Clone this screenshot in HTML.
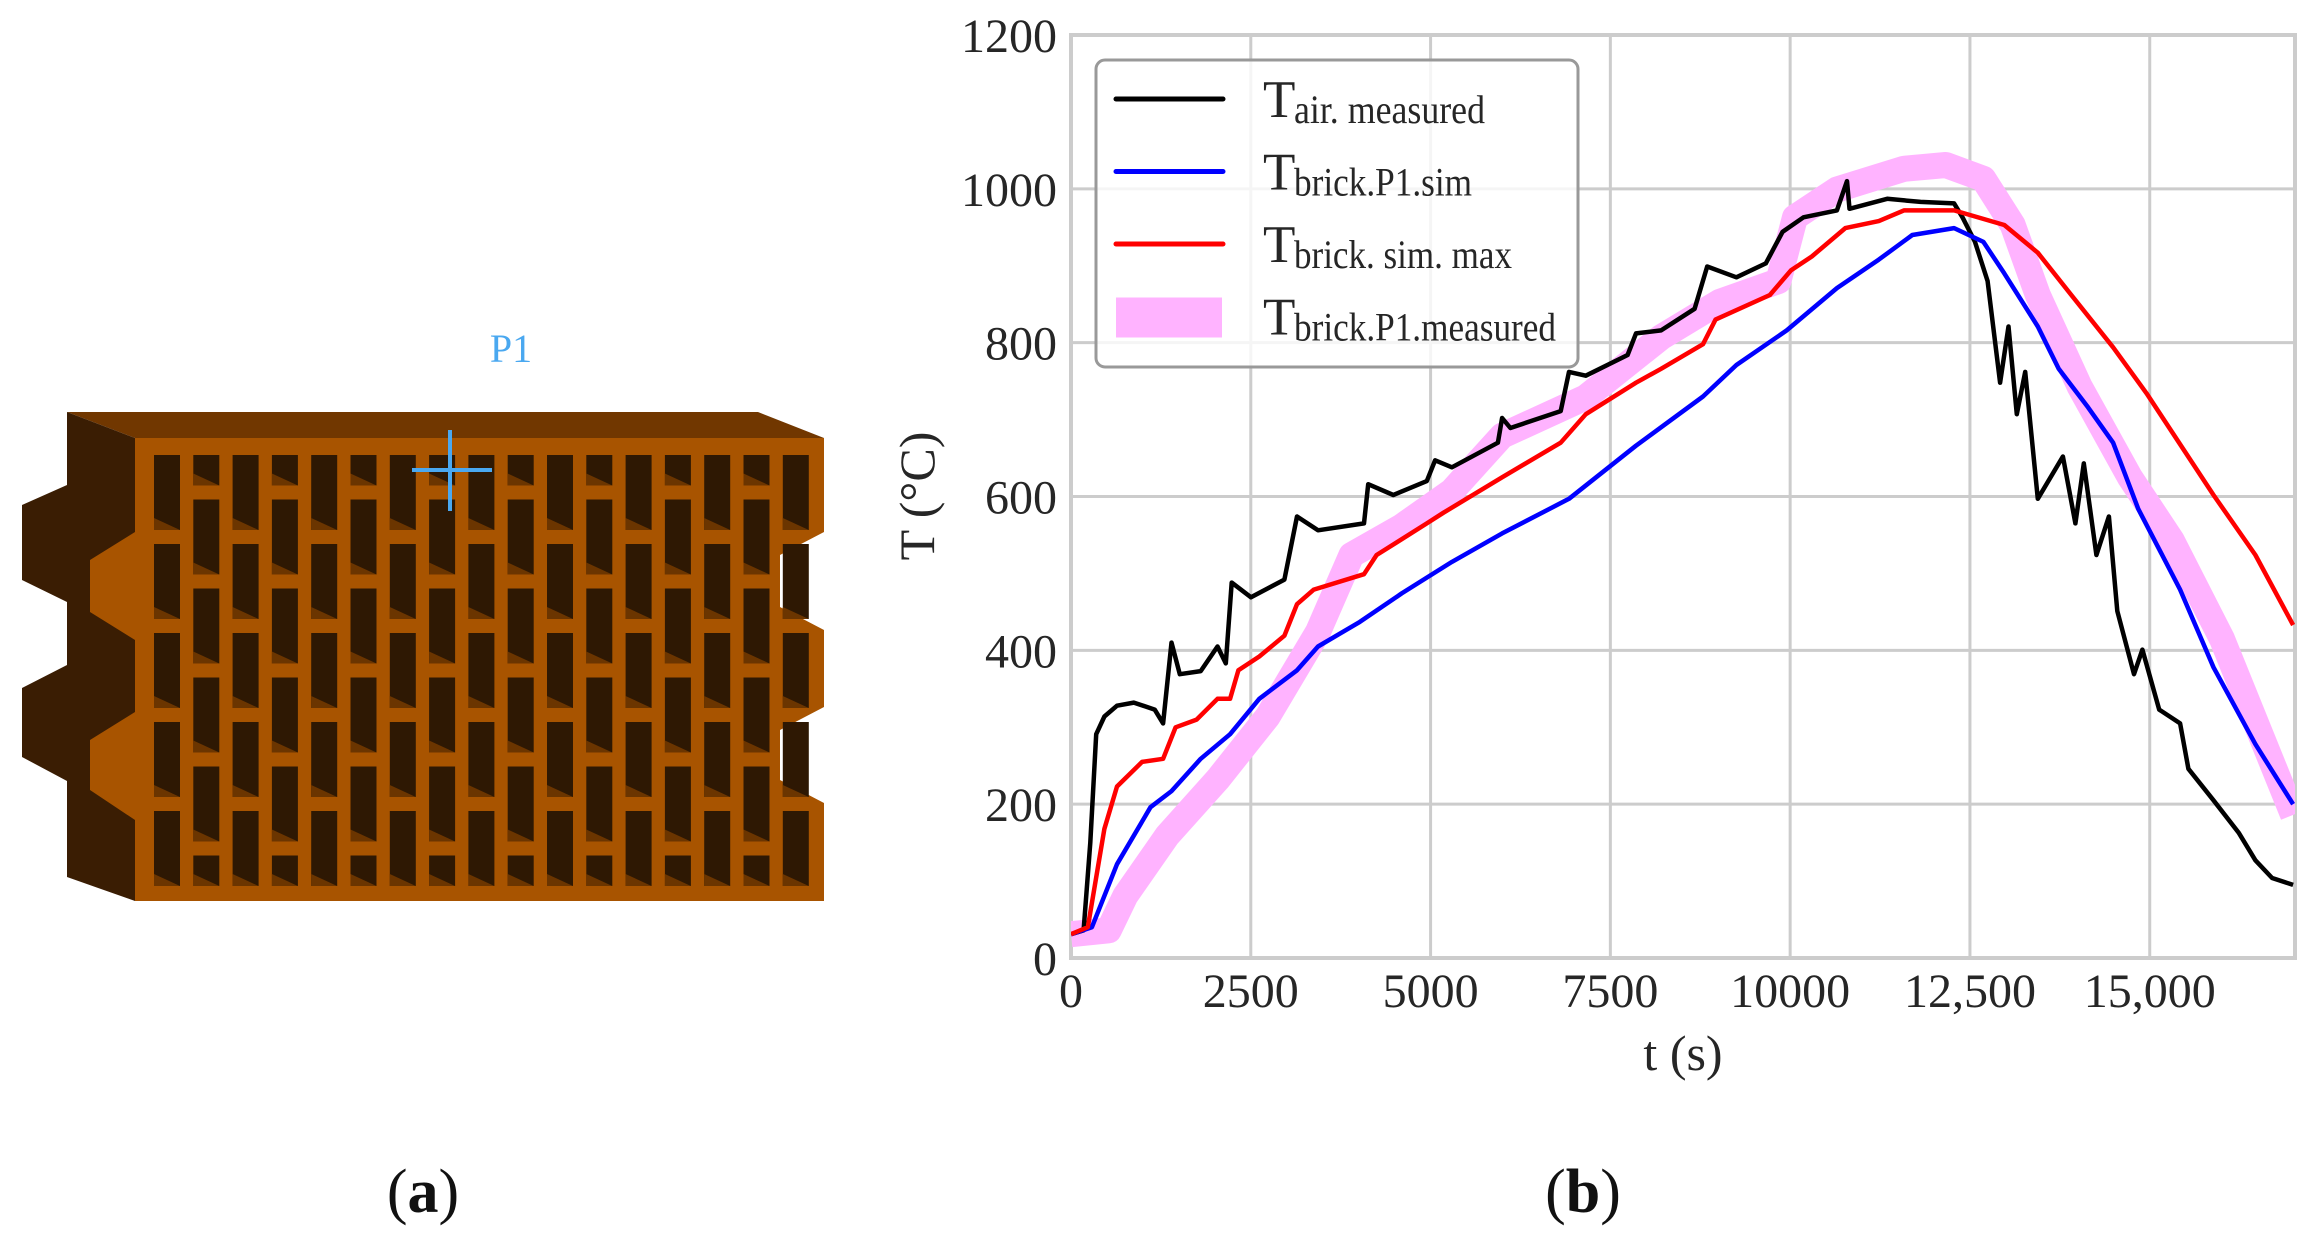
<!DOCTYPE html>
<html><head><meta charset="utf-8"><style>
html,body{margin:0;padding:0;background:#fff;}
svg{position:absolute;left:0;top:0;}
text{font-family:"Liberation Serif",serif;}
</style></head><body>
<svg id="fig" width="2313" height="1250" viewBox="0 0 2313 1250" xmlns="http://www.w3.org/2000/svg">
  <g id="brick">
    <polygon points="67,412 758,412 824,438 135,438" fill="#713700"/>
    <polygon points="67,412 135,438 135,901 67,877 67,781 22,757 22,688 67,665 67,602 22,580 22,505 67,485" fill="#3a1d03"/>
    <polygon points="135,438 824,438 824,532 780,555 780,607 824,630 824,707 780,730 780,780 824,803 824,901 135,901 135,820 90,790 90,740 135,712 135,640 90,612 90,560 135,532" fill="#a85400"/>
    <g id="holes"></g>
    <text x="511" y="362" font-size="40" fill="#4aa8f0" text-anchor="middle">P1</text>
    <line x1="450" y1="430" x2="450" y2="511" stroke="#4aa8f0" stroke-width="4"/>
    <line x1="412" y1="470" x2="492" y2="470" stroke="#4aa8f0" stroke-width="4"/>
  </g>
  <text x="423" y="1212" font-size="62" text-anchor="middle" fill="#111">(<tspan font-weight="bold">a</tspan>)</text>
  <text x="1583" y="1212" font-size="62" text-anchor="middle" fill="#111">(<tspan font-weight="bold">b</tspan>)</text>
  <g id="chart"></g>
</svg>
<script>
const xTicks=[0,2500,5000,7500,10000,12500,15000];
const xTickLabels=["0","2500","5000","7500","10000","12,500","15,000"];
const yTicks=[0,200,400,600,800,1000,1200];
const yTickLabels=["0","200","400","600","800","1000","1200"];
const airT=[0,175,268,350,465,640,873,1164,1280,1397,1513,1804,2037,2153,2235,2503,2968,3143,3434,4074,4132,4481,4947,5063,5296,5936,5994,6110,6809,6925,7158,7740,7857,8206,8671,8846,9253,9661,9894,10185,10650,10790,10825,11349,11814,12280,12396,12571,12745,12920,13036,13152,13268,13443,13792,13967,14083,14258,14432,14549,14781,14898,15131,15422,15538,15887,16236,16469,16702,16993];
const airV=[31,36,150,291,314,328,332,323,305,410,369,373,405,383,488,469,492,574,556,565,616,602,620,647,638,670,702,689,711,762,757,784,812,816,844,899,885,903,944,963,972,1010,974,987,983,981,963,931,880,748,821,707,762,597,652,565,643,524,574,451,369,401,323,305,246,205,163,127,104,95];
const maxT=[0,233,465,640,989,1280,1455,1746,2037,2212,2328,2619,2968,3143,3376,4074,4249,4947,5180,5994,6809,7158,7857,8206,8788,8962,9719,10010,10301,10767,11233,11582,12280,12978,13443,13909,14491,14956,15887,16469,16993];
const maxV=[31,40,168,223,255,259,300,310,337,337,374,392,419,460,479,499,524,565,579,625,670,707,748,766,798,830,862,894,912,949,958,972,972,953,917,862,794,734,602,524,433];
const simT=[0,291,640,1106,1397,1804,2212,2619,3143,3434,4016,4598,5296,5994,6925,7857,8788,9253,9952,10650,11233,11698,12280,12687,12978,13443,13734,14141,14491,14840,15422,15887,16469,16993];
const simV=[31,40,122,196,217,259,291,337,374,405,437,474,515,552,597,666,730,771,816,871,908,940,949,931,890,821,766,716,670,584,479,378,278,200];
const measT=[0,524,756,1338,2037,2735,3434,3900,4598,5296,5994,7158,8206,9021,9836,10068,10650,11582,12164,12687,13094,13443,14025,14724,15306,16003,16993];
const measV=[31,36,81,159,232,314,424,524,561,607,679,729,807,853,880,963,999,1026,1031,1013,953,862,743,625,543,415,186];

const NS="http://www.w3.org/2000/svg";
const L=1071,R=2295,T=35,B=958,XMAX=17020,YMAX=1200;
const sx=v=>L+(v/XMAX)*(R-L);
const sy=v=>B-(v/YMAX)*(B-T);
function mk(tag,attrs,parent){const e=document.createElementNS(NS,tag);for(const k in attrs)e.setAttribute(k,attrs[k]);parent.appendChild(e);return e;}

const holes=document.getElementById('holes');
for(let c=0;c<17;c++){
  const x=154+c*39.3;
  const off=c%2;
  let r=0;
  const spans=[];
  if(off){spans.push([0,1]);r=1;}
  while(r<10){const k=Math.min(2,10-r);spans.push([r,k]);r+=k;}
  spans.forEach(s=>{
    const y=455+s[0]*44.5, h=s[1]*44.5-14;
    const hr=mk('rect',{x:x,y:y,width:26,height:h,fill:'#2e1803'},holes);
    
    
    const sh=mk('polygon',{points:`${x},${y+h-12} ${x+26},${y+h} ${x},${y+h}`,fill:'#6b3500'},holes);
    
    
  });
}

const g=document.getElementById('chart');
xTicks.forEach((v,i)=>{
  const ln=mk('line',{x1:sx(v),x2:sx(v),y1:T,y2:B,stroke:'#cccccc','stroke-width':3},g);
  
  
  const t=mk('text',{x:sx(v),y:1007,'font-size':48,'text-anchor':'middle',fill:'#262626'},g);
  
  
  t.textContent=xTickLabels[i];
});
yTicks.forEach((v,i)=>{
  const ln=mk('line',{x1:L,x2:R,y1:sy(v),y2:sy(v),stroke:'#cccccc','stroke-width':3},g);
  
  
  const t=mk('text',{x:1057,y:sy(v)+17,'font-size':48,'text-anchor':'end',fill:'#262626'},g);
  
  
  t.textContent=yTickLabels[i];
});
const fr=mk('rect',{x:L,y:T,width:R-L,height:B-T,fill:'none',stroke:'#cccccc','stroke-width':4},g);



function path(ts,vs){return ts.map((t,i)=>(i?'L':'M')+sx(t).toFixed(1)+','+sy(vs[i]).toFixed(1)).join(' ');}
const clipD=mk('clipPath',{id:'pc'},g);
mk('rect',{x:L,y:T,width:R-L,height:B-T},clipD);
const sg=mk('g',{'clip-path':'url(#pc)'},g);
const pm=mk('path',{d:path(measT,measV),fill:'none',stroke:'#ffb3ff','stroke-width':26,'stroke-linejoin':'round','stroke-linecap':'butt'},sg);


const pa=mk('path',{d:path(airT,airV),fill:'none',stroke:'#000','stroke-width':4.5,'stroke-linejoin':'round'},sg);


const ps=mk('path',{d:path(simT,simV),fill:'none',stroke:'#0000ff','stroke-width':4.5,'stroke-linejoin':'round'},sg);


const pr=mk('path',{d:path(maxT,maxV),fill:'none',stroke:'#ff0000','stroke-width':4.5,'stroke-linejoin':'round'},sg);



const xt=mk('text',{x:1683,y:1070,'font-size':50,'text-anchor':'middle',fill:'#262626'},g);


xt.textContent='t (s)';
const yt=mk('text',{x:0,y:0,'font-size':50,'text-anchor':'middle',fill:'#262626',transform:'translate(934,496) rotate(-90)'},g);


yt.textContent='T (°C)';

const lg=mk('g',{},g);


mk('rect',{x:1096,y:60,width:482,height:307,rx:9,fill:'rgba(255,255,255,0.8)',stroke:'#999','stroke-width':3},lg);
const entries=[['air. measured','#000','line'],['brick.P1.sim','#0000ff','line'],['brick. sim. max','#ff0000','line'],['brick.P1.measured','#ffb3ff','rect']];
const widths=[191,178,218,262];
entries.forEach((e,i)=>{
  const yb=117+i*72.5;
  if(e[2]==='line'){
    const l=mk('line',{x1:1116,x2:1223,y1:yb-18,y2:yb-18,stroke:e[1],'stroke-width':5,'stroke-linecap':'round'},lg);
    
    
  } else {
    const r=mk('rect',{x:1116,y:yb-37,width:106,height:40,fill:e[1]},lg);
    
    
  }
  const t=mk('text',{x:1263,y:yb,'font-size':53,fill:'#262626'},lg);
  
  
  t.textContent='T';
  const s=mk('text',{x:1294,y:yb+6,'font-size':40,fill:'#262626',textLength:widths[i],lengthAdjust:'spacingAndGlyphs'},lg);
  
  
  s.textContent=e[0];
});
</script>
</body></html>
